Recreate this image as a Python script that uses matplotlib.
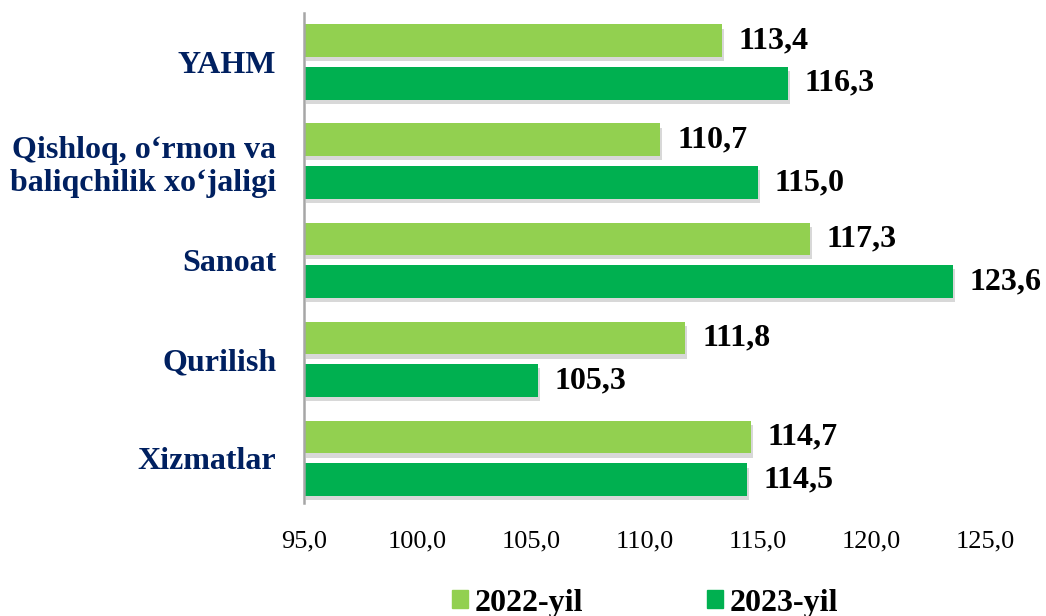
import matplotlib
matplotlib.use("Agg")
import matplotlib.pyplot as plt
import matplotlib.patheffects as pe
import numpy as np

categories = ["YAHM", "Qishloq, o‘rmon va\nbaliqchilik xo‘jaligi", "Sanoat", "Qurilish", "Xizmatlar"]
series_names = ["2022-yil", "2023-yil"]
values_2022 = [113.4, 110.7, 117.3, 111.8, 114.7]
values_2023 = [116.3, 115.0, 123.6, 105.3, 114.5]
x_ticks = [95, 100, 105, 110, 115, 120, 125]

c_light = "#92D050"
c_dark = "#00B050"
navy = "#002060"

plt.rcParams['font.family'] = ['Liberation Serif', 'DejaVu Serif']

fig = plt.figure(figsize=(10.46, 6.16), dpi=100)
ax = fig.add_axes([304/1046, 1-503/616, (985-304)/1046, 490/616])

y = np.arange(len(categories))
h = 0.33
off = 0.215
base = 95
shadow = [pe.SimplePatchShadow(offset=(1.5, -3), shadow_rgbFace="#AAAAAA", alpha=0.45), pe.Normal()]
b1 = ax.barh(y - off, np.array(values_2022) - base, left=base, height=h, color=c_light, label=series_names[0])
b2 = ax.barh(y + off, np.array(values_2023) - base, left=base, height=h, color=c_dark, label=series_names[1])
for b in list(b1) + list(b2):
    b.set_path_effects(shadow)

def fmt(v):
    return f"{v:.1f}".replace(".", ",")

for yy, v in zip(y - off, values_2022):
    ax.annotate(fmt(v), (v, yy), xytext=(12, 0), textcoords="offset points",
                va="center", ha="left", fontsize=23, fontweight="bold", color="black")
for yy, v in zip(y + off, values_2023):
    ax.annotate(fmt(v), (v, yy), xytext=(12, 0), textcoords="offset points",
                va="center", ha="left", fontsize=23, fontweight="bold", color="black")

ax.set_xlim(95, 125)
ax.set_ylim(4.45, -0.495)
ax.set_xticks(x_ticks)
ax.set_xticklabels([fmt(t) for t in x_ticks], fontsize=19)
ax.set_yticks(y)
ax.set_yticklabels(categories, fontsize=23, fontweight="bold", color=navy, linespacing=1.2)
ax.tick_params(axis="x", length=0, pad=20)
ax.tick_params(axis="y", length=0, pad=20)
for s in ["top", "right", "bottom"]:
    ax.spines[s].set_visible(False)
ax.spines["left"].set_color("#A6A6A6")
ax.spines["left"].set_linewidth(1.8)

handles = [plt.Rectangle((0, 0), 1, 1, color=c_light), plt.Rectangle((0, 0), 1, 1, color=c_dark)]
fig.legend(handles, series_names, loc="center", bbox_to_anchor=(645/1046, 1-603/616), ncol=2,
           frameon=False, prop={"size": 23, "weight": "bold"}, handlelength=0.5, handleheight=0.5,
           handletextpad=0.2, columnspacing=3.9)

fig.savefig("out.png", dpi=100)
